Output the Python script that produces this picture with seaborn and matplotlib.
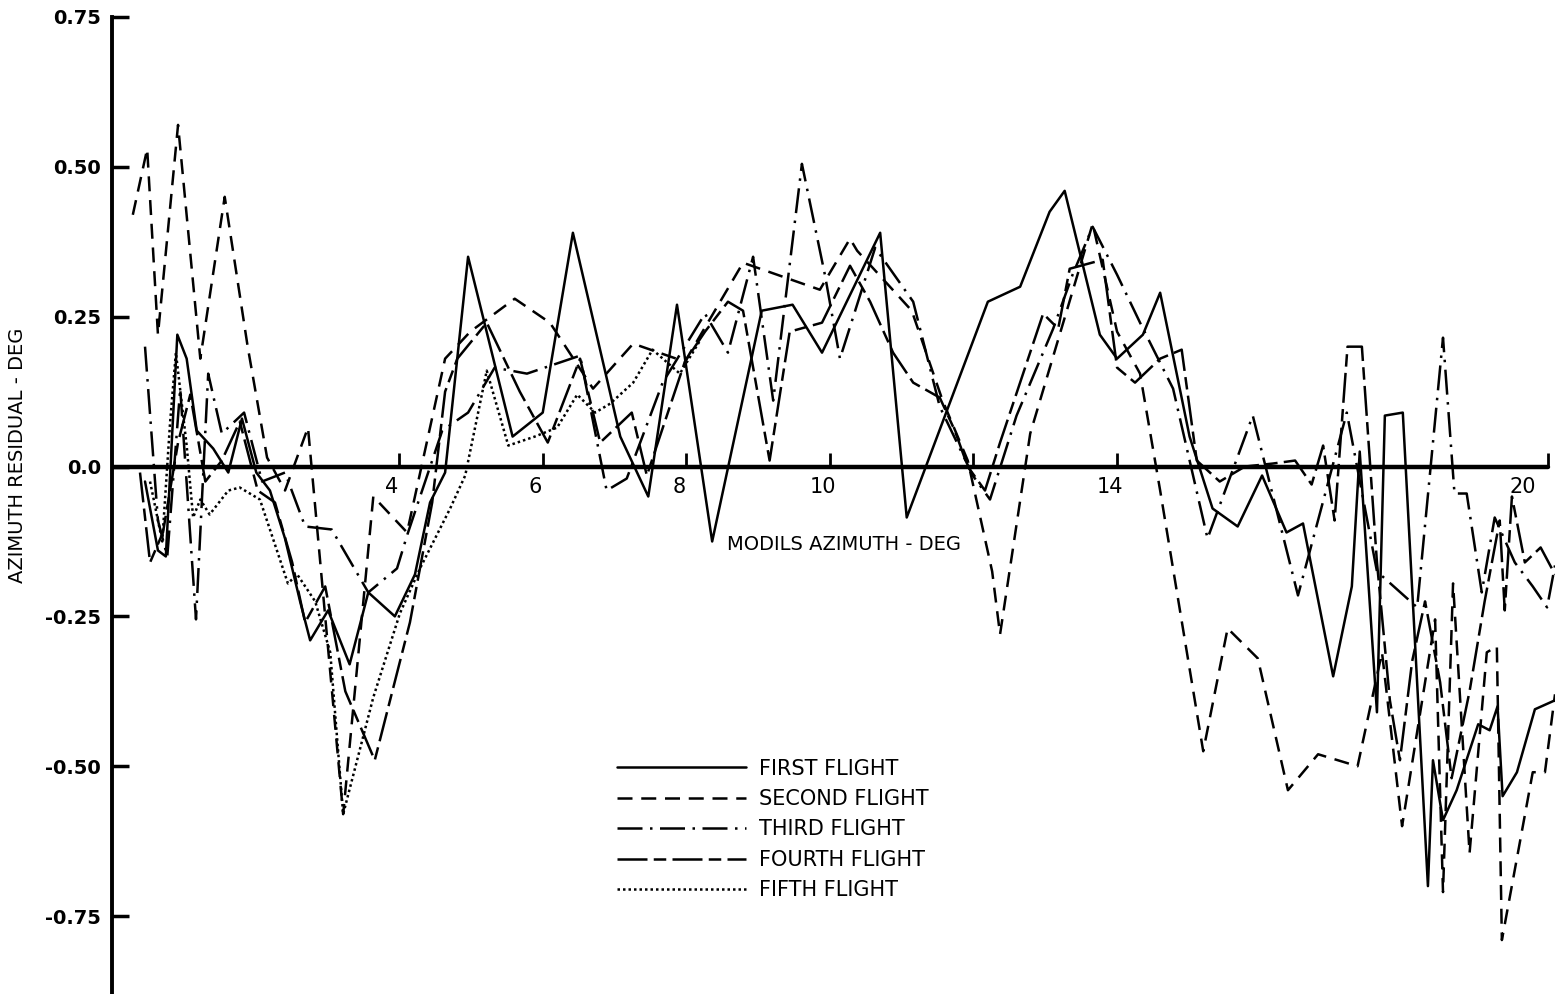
import matplotlib
matplotlib.use("Agg")
import matplotlib.pyplot as plt
import numpy as np
import pandas as pd
import seaborn as sns

# Data
first_x = [0.46, 0.64, 0.75, 0.91, 1.04, 1.18, 1.41, 1.62, 1.81, 2.01, 2.20, 2.41, 2.62, 2.76, 3.01,
           3.31, 3.57, 3.94, 4.22, 4.43, 4.64, 4.96, 5.58, 6.00, 6.42, 7.08, 7.47, 7.87, 8.36, 9.05,
           9.48, 9.89, 10.70, 11.07, 12.20, 12.65, 13.06, 13.27, 13.76, 14.00, 14.36, 14.60, 15.01,
           15.33, 15.68, 16.02, 16.36, 16.59, 17.01, 17.27, 17.38, 17.62, 17.73, 17.98, 18.33, 18.40,
           18.54, 18.73, 19.03, 19.19, 19.30, 19.37, 19.57, 19.82, 20.10]
first_y = [-0.025, -0.14, -0.15, 0.22, 0.18, 0.06, 0.03, -0.01, 0.08, -0.01, -0.04, -0.12, -0.225, -0.29, -0.24,
           -0.33, -0.21, -0.25, -0.18, -0.06, -0.01, 0.35, 0.05, 0.09, 0.39, 0.05, -0.05, 0.27, -0.125, 0.26,
           0.27, 0.19, 0.39, -0.085, 0.275, 0.30, 0.425, 0.46, 0.22, 0.18, 0.22, 0.29, 0.05,
           -0.07, -0.10, -0.015, -0.11, -0.095, -0.35, -0.20, 0.025, -0.41, 0.085, 0.09, -0.70, -0.49,
           -0.59, -0.54, -0.43, -0.44, -0.40, -0.55, -0.51, -0.405, -0.39]

second_x = [0.29, 0.49, 0.64, 0.92, 1.23, 1.57, 1.89, 2.16, 2.41, 2.73, 3.22, 3.64, 4.11, 4.64, 4.99,
            5.61, 6.10, 6.70, 7.26, 7.98, 8.79, 9.86, 10.28, 10.38, 11.14, 11.57, 11.92, 12.26, 12.37,
            12.79, 13.20, 13.66, 14.00, 14.32, 14.60, 15.20, 15.54, 15.96, 16.38, 16.80, 17.35, 17.69,
            17.97, 18.43, 18.54, 18.68, 18.91, 19.15, 19.29, 19.36, 19.79, 19.96, 20.10]
second_y = [0.42, 0.53, 0.22, 0.57, 0.18, 0.45, 0.20, 0.015, -0.04, 0.065, -0.58, -0.05, -0.11, 0.18, 0.225,
            0.28, 0.24, 0.13, 0.205, 0.175, 0.34, 0.295, 0.38, 0.36, 0.26, 0.11, 0.01, -0.175, -0.28,
            0.055, 0.22, 0.405, 0.225, 0.155, -0.04, -0.475, -0.27, -0.32, -0.54, -0.48, -0.50, -0.31,
            -0.60, -0.255, -0.71, -0.195, -0.645, -0.31, -0.30, -0.79, -0.51, -0.51, -0.38]

third_x = [0.46, 0.64, 0.77, 0.95, 1.17, 1.34, 1.53, 1.84, 2.09, 2.41, 2.69, 3.06, 3.57, 3.97, 4.11,
           4.60, 4.96, 5.33, 5.78, 6.52, 6.89, 7.17, 7.67, 8.26, 8.58, 8.93, 9.21, 9.61, 9.93, 10.14,
           10.63, 11.16, 11.53, 11.99, 12.23, 12.60, 13.11, 13.38, 13.66, 14.00, 14.32, 14.78, 15.26,
           15.89, 16.52, 17.20, 17.62, 18.18, 18.54, 18.70, 18.87, 19.08, 19.26, 19.54, 19.79, 19.99, 20.10]
third_y = [0.20, -0.09, -0.15, 0.13, -0.255, 0.155, 0.055, 0.09, -0.025, -0.01, -0.10, -0.105, -0.21, -0.17, -0.115,
           0.06, 0.09, 0.165, 0.155, 0.185, -0.04, -0.02, 0.14, 0.255, 0.19, 0.35, 0.11, 0.505, 0.32, 0.18,
           0.365, 0.275, 0.10, -0.015, -0.055, 0.085, 0.23, 0.32, 0.40, 0.32, 0.24, 0.13, -0.12,
           0.085, -0.215, 0.09, -0.175, -0.235, 0.215, -0.045, -0.045, -0.21, -0.085, -0.16, -0.20, -0.235, -0.165]

fourth_x = [0.39, 0.53, 0.71, 0.92, 1.09, 1.30, 1.53, 1.78, 2.03, 2.27, 2.51, 2.69, 2.97, 3.25, 3.66,
            4.15, 4.46, 4.64, 4.81, 5.22, 5.68, 6.07, 6.52, 6.80, 7.24, 7.45, 7.98, 8.26, 8.58, 8.79,
            9.16, 9.44, 9.89, 10.28, 10.56, 10.88, 11.16, 11.53, 11.74, 11.92, 12.16, 12.37, 12.97,
            13.18, 13.34, 13.80, 14.00, 14.25, 14.60, 14.90, 15.11, 15.43, 15.78, 16.17, 16.48, 16.71,
            16.87, 17.03, 17.21, 17.41, 17.62, 17.80, 17.94, 18.11, 18.29, 18.50, 18.66, 18.91, 19.12,
            19.33, 19.40, 19.50, 19.68, 19.90, 20.10]
fourth_y = [-0.01, -0.16, -0.11, 0.04, 0.12, -0.025, 0.01, 0.075, -0.04, -0.06, -0.16, -0.26, -0.20, -0.375, -0.49,
            -0.26, -0.06, 0.125, 0.18, 0.24, 0.125, 0.04, 0.18, 0.04, 0.09, -0.015, 0.175, 0.225, 0.275, 0.26,
            0.01, 0.225, 0.24, 0.335, 0.275, 0.19, 0.14, 0.115, 0.06, 0.0, -0.04, 0.04, 0.255,
            0.23, 0.33, 0.345, 0.165, 0.14, 0.18, 0.195, 0.01, -0.025, 0.0, 0.005, 0.01, -0.03,
            0.035, -0.09, 0.20, 0.20, -0.16, -0.39, -0.49, -0.325, -0.225, -0.36, -0.52, -0.375, -0.225,
            -0.09, -0.24, -0.05, -0.16, -0.135, -0.18]

fifth_x = [0.53, 0.70, 0.81, 0.89, 1.04, 1.13, 1.23, 1.36, 1.62, 1.78, 2.06, 2.20, 2.45, 2.58, 2.83,
           3.04, 3.22, 3.64, 4.01, 4.29, 4.71, 4.92, 5.22, 5.52, 5.89, 6.20, 6.48, 6.73, 6.94, 7.26,
           7.53, 7.91, 8.19]
fifth_y = [-0.025, -0.125, 0.075, 0.19, 0.035, -0.085, -0.055, -0.08, -0.04, -0.035, -0.055, -0.105, -0.195, -0.18, -0.225,
           -0.31, -0.58, -0.385, -0.245, -0.17, -0.07, -0.015, 0.16, 0.035, 0.05, 0.065, 0.12, 0.09, 0.105, 0.14,
           0.195, 0.155, 0.21]

flights = ['FIRST FLIGHT', 'SECOND FLIGHT', 'THIRD FLIGHT', 'FOURTH FLIGHT', 'FIFTH FLIGHT']
y_ticks = [0.75, 0.50, 0.25, 0.0, -0.25, -0.50, -0.75]
y_ticklabels = ['0.75', '0.50', '0.25', '0.0', '-0.25', '-0.50', '-0.75']
x_ticks = [4, 6, 8, 10, 12, 14, 20]
x_ticklabels = ['4', '6', '8', '10', '', '14', '20']

xs = [first_x, second_x, third_x, fourth_x, fifth_x]
ys = [first_y, second_y, third_y, fourth_y, fifth_y]
df = pd.concat([pd.DataFrame({'azimuth': x, 'residual': y, 'flight': f})
                for x, y, f in zip(xs, ys, flights)], ignore_index=True)

sns.set_style('white')
plt.rcParams['font.family'] = ['DejaVu Sans']
plt.rcParams['text.color'] = 'black'
plt.rcParams['ytick.color'] = 'black'
plt.rcParams['ytick.labelcolor'] = 'black'

fig = plt.figure(figsize=(15.55, 9.94), dpi=100)
ax = fig.add_axes([112 / 1555, 0.0, 1 - 112 / 1555, 977 / 994])

dash_styles = {
    'FIRST FLIGHT': '',
    'SECOND FLIGHT': (6, 3.5),
    'THIRD FLIGHT': (10, 3, 1, 3),
    'FOURTH FLIGHT': (12, 2.5, 5, 2.5),
    'FIFTH FLIGHT': (1, 1.2),
}
sns.lineplot(data=df, x='azimuth', y='residual', style='flight', style_order=flights,
             dashes=dash_styles, color='black', lw=1.8, estimator=None, sort=False, ax=ax)

# zero line acting as x axis, with upward ticks
ax.plot([0, 20], [0, 0], color='black', lw=3.2)
ax.vlines(x_ticks, 0, 0.022, color='black', lw=2)
for xt, lab in zip(x_ticks, x_ticklabels):
    ax.text(xt - (0.35 if xt == 20 else 0.1), -0.018, lab, ha='center', va='top',
            fontsize=15, color='black')

ax.set_xlim(0, 20.1)
ax.set_ylim(-0.88, 0.75)
ax.set_xticks([])
ax.set_yticks(y_ticks)
ax.set_yticklabels(y_ticklabels, fontsize=14, fontweight='bold', color='black')
ax.tick_params(axis='y', direction='in', length=12, width=2.5, left=True, pad=8, colors='black')
for s in ['top', 'right', 'bottom']:
    ax.spines[s].set_visible(False)
ax.spines['left'].set_linewidth(2.8)
ax.spines['left'].set_color('black')
ax.set_xlabel('')
ax.set_ylabel('')

ax.text(10.2, -0.13, 'MODILS AZIMUTH - DEG', ha='center', va='center', fontsize=14, color='black')
fig.text(18 / 1555, 1 - 455 / 994, 'AZIMUTH RESIDUAL - DEG', rotation=90,
         ha='center', va='center', fontsize=14, color='black')

leg = ax.legend(loc='upper left', bbox_to_anchor=(0.35, 0.241), frameon=False,
                handlelength=6.2, labelspacing=0.5, fontsize=15, borderaxespad=0,
                borderpad=0, handletextpad=0.6)
for line in leg.get_lines():
    line.set_linewidth(1.8)
for t in leg.get_texts():
    t.set_color('black')

fig.savefig('out.png', dpi=100)
